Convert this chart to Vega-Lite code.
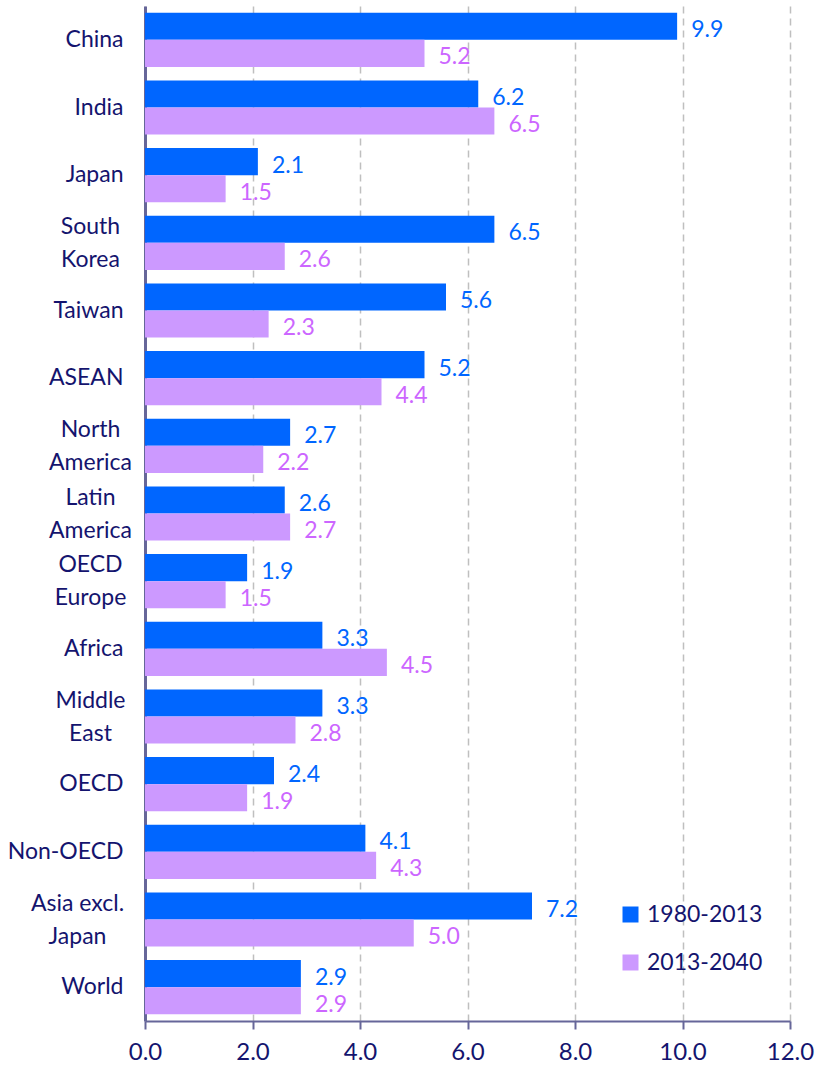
{
  "$schema": "https://vega.github.io/schema/vega-lite/v6.json",
  "width": 645,
  "height": 1015,
  "autosize": {"type": "none"},
  "padding": {"left": 145, "top": 6, "right": 26, "bottom": 53},
  "background": "white",
  "config": {
    "view": {"stroke": null},
    "font": "Lato"
  },
  "data": {
    "values": [
      {"region": "China", "period": "1980-2013", "growth": 9.9},
      {"region": "China", "period": "2013-2040", "growth": 5.2},
      {"region": "India", "period": "1980-2013", "growth": 6.2},
      {"region": "India", "period": "2013-2040", "growth": 6.5},
      {"region": "Japan", "period": "1980-2013", "growth": 2.1},
      {"region": "Japan", "period": "2013-2040", "growth": 1.5},
      {"region": "South Korea", "period": "1980-2013", "growth": 6.5},
      {"region": "South Korea", "period": "2013-2040", "growth": 2.6},
      {"region": "Taiwan", "period": "1980-2013", "growth": 5.6},
      {"region": "Taiwan", "period": "2013-2040", "growth": 2.3},
      {"region": "ASEAN", "period": "1980-2013", "growth": 5.2},
      {"region": "ASEAN", "period": "2013-2040", "growth": 4.4},
      {"region": "North America", "period": "1980-2013", "growth": 2.7},
      {"region": "North America", "period": "2013-2040", "growth": 2.2},
      {"region": "Latin America", "period": "1980-2013", "growth": 2.6},
      {"region": "Latin America", "period": "2013-2040", "growth": 2.7},
      {"region": "OECD Europe", "period": "1980-2013", "growth": 1.9},
      {"region": "OECD Europe", "period": "2013-2040", "growth": 1.5},
      {"region": "Africa", "period": "1980-2013", "growth": 3.3},
      {"region": "Africa", "period": "2013-2040", "growth": 4.5},
      {"region": "Middle East", "period": "1980-2013", "growth": 3.3},
      {"region": "Middle East", "period": "2013-2040", "growth": 2.8},
      {"region": "OECD", "period": "1980-2013", "growth": 2.4},
      {"region": "OECD", "period": "2013-2040", "growth": 1.9},
      {"region": "Non-OECD", "period": "1980-2013", "growth": 4.1},
      {"region": "Non-OECD", "period": "2013-2040", "growth": 4.3},
      {"region": "Asia excl. Japan", "period": "1980-2013", "growth": 7.2},
      {"region": "Asia excl. Japan", "period": "2013-2040", "growth": 5.0},
      {"region": "World", "period": "1980-2013", "growth": 2.9},
      {"region": "World", "period": "2013-2040", "growth": 2.9}
    ]
  },
  "encoding": {
    "y": {
      "field": "region",
      "type": "nominal",
      "sort": null,
      "scale": {"paddingInner": 0.2, "paddingOuter": 0.1},
      "axis": {
        "title": null,
        "ticks": false,
        "grid": false,
        "domainColor": "#666699",
        "domainWidth": 3,
        "labelFont": "Lato",
        "labelFontSize": 23,
        "labelColor": "#14146e",
        "labelLineHeight": 33,
        "labelLimit": 200,
        "labelExpr": "datum.value == 'Asia excl. Japan' ? ['Asia excl.', 'Japan'] : (indexof(['South Korea','North America','Latin America','OECD Europe','Middle East'], datum.value) >= 0 ? split(datum.value, ' ') : datum.value)",
        "labelAlign": {"condition": {"test": "indexof(['South Korea','North America','Latin America','OECD Europe','Middle East','Asia excl. Japan'], datum.value) >= 0", "value": "center"}, "value": "right"},
        "labelOffset": {"condition": {"test": "indexof(['South Korea','North America','Latin America','OECD Europe','Middle East','Asia excl. Japan'], datum.value) >= 0", "value": -16}, "value": 0},
        "labelPadding": {"condition": [{"test": "datum.value == 'Asia excl. Japan'", "value": 68}, {"test": "indexof(['South Korea','North America','Latin America','OECD Europe','Middle East'], datum.value) >= 0", "value": 55}], "value": 22}
      }
    },
    "yOffset": {"field": "period", "type": "nominal", "sort": ["1980-2013", "2013-2040"]}
  },
  "layer": [
    {
      "mark": {"type": "bar"},
      "encoding": {
        "x": {
          "field": "growth",
          "type": "quantitative",
          "scale": {"domain": [0, 12], "nice": false},
          "axis": {
            "title": null,
            "values": [0, 2, 4, 6, 8, 10, 12],
            "format": ".1f",
            "grid": true,
            "gridColor": "#BFBFBF",
            "gridDash": [7, 5],
            "gridWidth": 1.5,
            "domainColor": "#666699",
            "domainWidth": 2,
            "tickColor": "#666699",
            "tickWidth": 2,
            "tickSize": 8,
            "labelFont": "Lato",
            "labelFontSize": 24,
            "labelColor": "#14146e",
            "labelPadding": 11,
            "labelFlush": false
          }
        },
        "color": {
          "field": "period",
          "type": "nominal",
          "scale": {"domain": ["1980-2013", "2013-2040"], "range": ["#0066FF", "#CC99FF"]},
          "legend": {
            "title": null,
            "orient": "none",
            "legendX": 474,
            "legendY": 897,
            "padding": 0,
            "symbolType": "square",
            "symbolSize": 256,
            "symbolStrokeWidth": 0,
            "symbolOpacity": 1,
            "labelFont": "Lato",
            "labelFontSize": 23,
            "labelColor": "#14146e",
            "labelOffset": 5,
            "rowPadding": 24
          }
        }
      }
    },
    {
      "mark": {"type": "text", "align": "left", "baseline": "middle", "dx": 14, "dy": 4, "fontSize": 23, "font": "Lato"},
      "encoding": {
        "x": {"field": "growth", "type": "quantitative"},
        "text": {"field": "growth", "type": "quantitative", "format": ".1f"},
        "color": {"condition": {"test": "datum.period == '1980-2013'", "value": "#0066FF"}, "value": "#CC66FF"}
      }
    }
  ]
}
